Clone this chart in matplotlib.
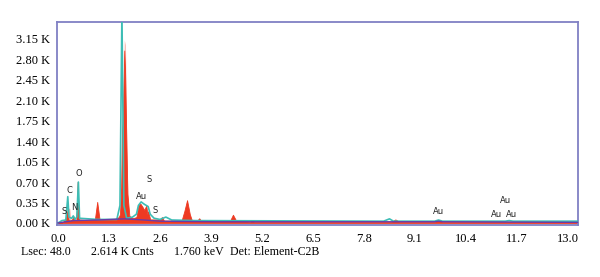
import numpy as np
import matplotlib
matplotlib.use("Agg")
import matplotlib.pyplot as plt
import matplotlib.ticker as ticker

# spectra (energy in keV, counts in K)
red_kev = [0.0, 0.1, 0.15, 0.2, 0.24, 0.27, 0.3, 0.36, 0.39, 0.42, 0.47, 0.5, 0.53,
           0.7, 0.94, 1.0, 1.06, 1.45, 1.55, 1.58, 1.61, 1.63, 1.66, 1.69, 1.71, 1.74,
           1.77, 1.82, 1.9, 2.0, 2.05, 2.1, 2.15, 2.2, 2.25, 2.28, 2.3, 2.35, 2.6,
           2.65, 2.7, 3.15, 3.22, 3.29, 3.36, 3.42, 3.55, 3.6, 3.65, 4.38, 4.46, 4.54,
           4.9, 4.95, 5.0, 8.5, 8.6, 8.7, 9.6, 9.7, 9.8, 11.5, 13.25]
red_cnt = [0.0, 0.01, 0.03, 0.08, 0.2, 0.05, 0.04, 0.06, 0.12, 0.04, 0.05, 0.7, 0.06,
           0.05, 0.06, 0.36, 0.06, 0.07, 0.1, 0.15, 0.6, 1.5, 2.0, 2.95, 2.6, 1.5,
           0.5, 0.12, 0.08, 0.1, 0.3, 0.33, 0.28, 0.22, 0.3, 0.15, 0.2, 0.06, 0.06,
           0.1, 0.04, 0.04, 0.2, 0.39, 0.15, 0.03, 0.04, 0.08, 0.03, 0.03, 0.14, 0.04,
           0.02, 0.05, 0.02, 0.02, 0.06, 0.02, 0.02, 0.04, 0.02, 0.02, 0.02]

pink_kev = [0.18, 0.22, 0.3, 0.34, 1.6, 1.66, 1.69, 1.72, 1.76, 1.8]
pink_cnt = [0.0, 0.25, 0.25, 0.0, 0.0, 2.2, 3.13, 3.05, 1.0, 0.0]

cyan_kev = [0.0, 0.1, 0.2, 0.25, 0.28, 0.35, 0.39, 0.43, 0.48, 0.52, 0.55, 1.0, 1.5,
            1.58, 1.63, 1.68, 1.75, 1.9, 2.0, 2.05, 2.12, 2.2, 2.3, 2.35, 2.45, 2.6,
            2.75, 2.9, 3.5, 8.3, 8.45, 8.55, 9.6, 9.7, 9.8, 11.4, 11.5, 11.6, 13.25]
cyan_cnt = [0.0, 0.04, 0.05, 0.45, 0.1, 0.08, 0.12, 0.06, 0.1, 0.7, 0.08, 0.06, 0.06,
            0.3, 3.6, 0.3, 0.08, 0.1, 0.15, 0.3, 0.36, 0.32, 0.28, 0.15, 0.08, 0.06,
            0.1, 0.05, 0.04, 0.03, 0.07, 0.03, 0.03, 0.05, 0.03, 0.03, 0.04, 0.03, 0.03]

bg_kev = [0.0, 0.2, 0.4, 1.0, 1.7, 2.2, 2.6, 4.0, 9.6, 9.7, 9.8, 13.25]
bg_cnt = [0.0, 0.02, 0.04, 0.05, 0.07, 0.05, 0.03, 0.02, 0.02, 0.03, 0.02, 0.01]

labels = ["S", "C", "N", "O", "Au", "S", "S", "Au", "Au", "Au", "Au"]
label_kev = [0.16, 0.29, 0.41, 0.53, 2.13, 2.32, 2.47, 9.69, 11.17, 11.56, 11.40]
label_cnt = [0.19, 0.56, 0.26, 0.85, 0.46, 0.74, 0.21, 0.19, 0.14, 0.14, 0.39]

yticks = [0.0, 0.35, 0.70, 1.05, 1.40, 1.75, 2.10, 2.45, 2.80, 3.15]
xticks = [0.0, 1.3, 2.6, 3.9, 5.2, 6.5, 7.8, 9.1, 10.4, 11.7, 13.0]

fig = plt.figure(figsize=(6.0, 2.77), dpi=100)
ax = fig.add_axes([0.095, 0.188, 0.868, 0.733])

ax.fill_between(pink_kev, 0, pink_cnt, color="#f7a29a", alpha=0.7, linewidth=0, zorder=1)
ax.fill_between(red_kev, 0, red_cnt, color="#ee3a22", linewidth=0.6, zorder=2)
ax.plot(cyan_kev, cyan_cnt, color="#3dbdb5", linewidth=1.2, zorder=3)
ax.plot(bg_kev, bg_cnt, color="#6a3aa8", linewidth=1.0, zorder=4)

for lab, x, y in zip(labels, label_kev, label_cnt):
    ax.text(x, y, lab, fontsize=6, ha="center", va="center", color="#222222",
            family="DejaVu Sans")

ax.set_xlim(-0.025, 13.25)
ax.set_ylim(-0.034, 3.44)
ax.set_xticks(xticks)
ax.set_yticks(yticks)
ax.xaxis.set_major_formatter(ticker.FormatStrFormatter("%.1f"))
ax.yaxis.set_major_formatter(ticker.FormatStrFormatter("%.2f K"))
ax.tick_params(length=0, labelsize=9)
ax.tick_params(axis="y", pad=5)
ax.tick_params(axis="x", pad=6)
for lab in ax.get_xticklabels() + ax.get_yticklabels():
    lab.set_family("Liberation Serif")

for s in ax.spines.values():
    s.set_color("#8080c4")
    s.set_linewidth(1.3)

info = [("Lsec: 48.0", 21), ("2.614 K Cnts", 91), ("1.760 keV", 174),
        ("Det: Element-C2B", 230)]
for txt, px in info:
    fig.text(px / 600, 1 - 252 / 277, txt, fontsize=8.6, family="Liberation Serif",
             ha="left", va="center")

fig.savefig("out.png", dpi=100)
